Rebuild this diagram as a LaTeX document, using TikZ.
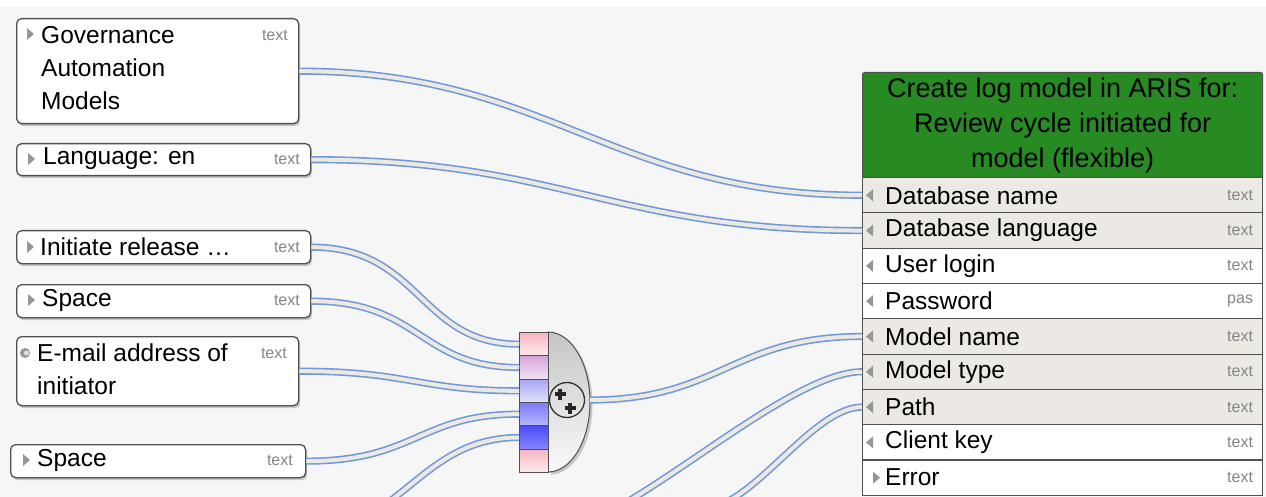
\documentclass[tikz,border=0pt]{standalone}
\usepackage{fontspec}
\setmainfont{Liberation Sans}
\usetikzlibrary{shadows}
\definecolor{bgfill}{HTML}{F6F6F6}
\definecolor{boxline}{HTML}{505050}
\definecolor{rowshade}{HTML}{ECE8E4}
\definecolor{hdrgreen}{HTML}{278A23}
\definecolor{connblue}{HTML}{7099DA}
\definecolor{conninner}{HTML}{ECE9E3}
\definecolor{typegray}{HTML}{858585}
\definecolor{trigray}{HTML}{969696}
\definecolor{pinktop}{HTML}{F6B4BE}
\definecolor{pinkbot}{HTML}{FDECEE}
\definecolor{purtop}{HTML}{D6A6DA}
\definecolor{purbot}{HTML}{F2E2F4}
\definecolor{blutop}{HTML}{A6A6F6}
\definecolor{blubot}{HTML}{E2E2FC}
\definecolor{bltwotop}{HTML}{7C7CF8}
\definecolor{bltwobot}{HTML}{B6B6FC}
\definecolor{blthrtop}{HTML}{4C4CF8}
\definecolor{blthrbot}{HTML}{8686FC}
\begin{document}
\begin{tikzpicture}[x=1pt, y=-1pt,
  inbox/.style={rectangle, draw=boxline, line width=1.3pt, fill=white,
                rounded corners=5pt, anchor=north west, inner sep=0pt,
                drop shadow={shadow xshift=1.5pt, shadow yshift=-2.5pt, opacity=0.4}},
  lbl/.style={inner sep=0pt, anchor=west, align=left,
              font=\fontsize{24.5}{33}\selectfont},
  typ/.style={inner sep=0pt, anchor=east, text=typegray,
              font=\fontsize{16}{16}\selectfont},
  hdr/.style={rectangle, draw=boxline, line width=1.2pt, fill=hdrgreen,
              minimum width=400pt, minimum height=105pt, anchor=north west,
              inner sep=0pt, rounded corners=2pt, align=center,
              font=\fontsize{27}{35}\selectfont},
  row/.style={rectangle, draw=boxline, line width=1.2pt, fill=#1,
              minimum width=400pt, minimum height=35.3pt, anchor=north west,
              inner sep=0pt},
  row/.default=white,
  cell/.style={rectangle, draw=boxline, line width=1pt, minimum width=29pt,
               minimum height=23.33pt, anchor=north west, inner sep=0pt},
  plusline/.style={line width=3.2pt, black!85},
  conn/.style={draw=connblue, line width=1.6pt, double=conninner,
               double distance=4pt}
]
  % Hintergrund
  \fill[white] (0,0) rectangle (1266,497);
  \fill[bgfill] (0,7) rectangle (1266,497);
  \useasboundingbox (0,0) rectangle (1266,497);
  \clip (0,0) rectangle (1266,497);

  % Eingaben links
  \node[inbox, minimum width=282pt, minimum height=105pt] (gov) at (16,18) {};
  \node[inbox, minimum width=294pt, minimum height=32pt] (lang) at (16,143) {};
  \node[inbox, minimum width=294pt, minimum height=33pt] (init) at (16,230) {};
  \node[inbox, minimum width=294pt, minimum height=33pt] (spc) at (16,284) {};
  \node[inbox, minimum width=282pt, minimum height=69pt] (mail) at (16,336) {};
  \node[inbox, minimum width=295pt, minimum height=33pt] (spcb) at (10,444) {};

  \node[lbl] (govt) at (41,68) {Governance\\Automation\\Models};
  \node[typ] (govty) at (288,35) {text};
  \node[lbl] (langt) at (43,159) {Language: en};
  \node[typ] (langty) at (300,159) {text};
  \node[lbl] (initt) at (40,247) {Initiate release \dots};
  \node[typ] (initty) at (300,247) {text};
  \node[lbl] (spct) at (42,300) {Space};
  \node[typ] (spcty) at (300,300) {text};
  \node[lbl] (mailt) at (37,369) {E-mail address of\\initiator};
  \node[typ] (mailty) at (287,353) {text};
  \node[lbl] (spcbt) at (37,460) {Space};
  \node[typ] (spcbty) at (293,460) {text};

  \fill[trigray] (27,28) -- (34,34) -- (27,40) -- cycle;
  \fill[trigray] (28,153) -- (35,159) -- (28,165) -- cycle;
  \fill[trigray] (27,241) -- (34,247) -- (27,253) -- cycle;
  \fill[trigray] (28,294) -- (35,300) -- (28,306) -- cycle;
  \fill[trigray] (25,353) circle[radius=5pt];
  \fill[white!70!trigray] (26.5,353) circle[radius=2.5pt];
  \fill[trigray] (23,454) -- (30,460) -- (23,466) -- cycle;

  % Funktion rechts
  \node[hdr] (act) at (862,72)
    {Create log model in ARIS for:\\Review cycle initiated for\\model (flexible)};
  \foreach \lab/\ty/\fl [count=\i] in {Database name/text/rowshade,
      Database language/text/rowshade, User login/text/white,
      Password/pas/white, Model name/text/rowshade, Model type/text/rowshade,
      Path/text/rowshade, Client key/text/white, Error/text/white} {
    \node[row=\fl] (r\i) at (862,{177+35.3*(\i-1)}) {};
    \node[lbl] (rl\i) at ([xshift=23pt]r\i.west) {\lab};
    \node[typ] (rt\i) at ([xshift=-10pt]r\i.east) {\ty};
  }
  \foreach \i in {1,...,8}
    \fill[trigray] ([xshift=4pt]r\i.west) -- ++(7pt,6pt) -- ++(0pt,-12pt) -- cycle;
  \fill[trigray] ([xshift=11pt,yshift=6pt]r9.west) -- ++(7pt,-6pt) -- ++(-7pt,-6pt) -- cycle;

  % Verknuepfung
  \draw[boxline, line width=1pt, top color=gray!45, bottom color=gray!4,
        drop shadow={shadow xshift=2.5pt, shadow yshift=-2.5pt, opacity=0.4}]
    (548,332) arc[start angle=-90, end angle=90, x radius=42, y radius=70] -- cycle;
  \foreach \ct/\cb [count=\i] in {pinktop/pinkbot, purtop/purbot, blutop/blubot,
      bltwotop/bltwobot, blthrtop/blthrbot, pinktop/pinkbot}
    \node[cell, top color=\ct, bottom color=\cb] (c\i) at (519,{332+23.33*(\i-1)}) {};
  \node[circle, draw=black!80, line width=1.3pt, minimum size=35pt, inner sep=0pt] (mx) at (567,400) {};
  \draw[plusline] (554.5,394) -- (565.5,394) (560,388.5) -- (560,399.5);
  \draw[plusline] (564.5,408) -- (575.5,408) (570,402.5) -- (570,413.5);
  \coordinate (mout) at (590,400);

  % Verbindungen
  \coordinate (offa) at (301,533);
  \coordinate (offb) at (538,537);
  \coordinate (offc) at (702,509);
  \draw[conn] (gov.east) .. controls +(250,0) and +(-250,0) .. (r1.west);
  \draw[conn] (lang.east) .. controls +(250,0) and +(-250,0) .. (r2.west);
  \draw[conn] (init.east) .. controls +(110,0) and +(-100,0) .. (c1.west);
  \draw[conn] (spc.east) .. controls +(110,0) and +(-100,0) .. (c2.west);
  \draw[conn] (mail.east) .. controls +(110,0) and +(-100,0) .. (c3.west);
  \draw[conn] (spcb.east) .. controls +(110,0) and +(-100,0) .. (c4.west);
  \draw[conn] (offa) .. controls +(100,0) and +(-100,0) .. (c5.west);
  \draw[conn] (mout) .. controls +(130,0) and +(-130,0) .. (r5.west);
  \draw[conn] (offb) .. controls +(80,0) and +(-80,0) .. (r6.west);
  \draw[conn] (offc) .. controls +(50,0) and +(-50,0) .. (r7.west);
\end{tikzpicture}
\end{document}
